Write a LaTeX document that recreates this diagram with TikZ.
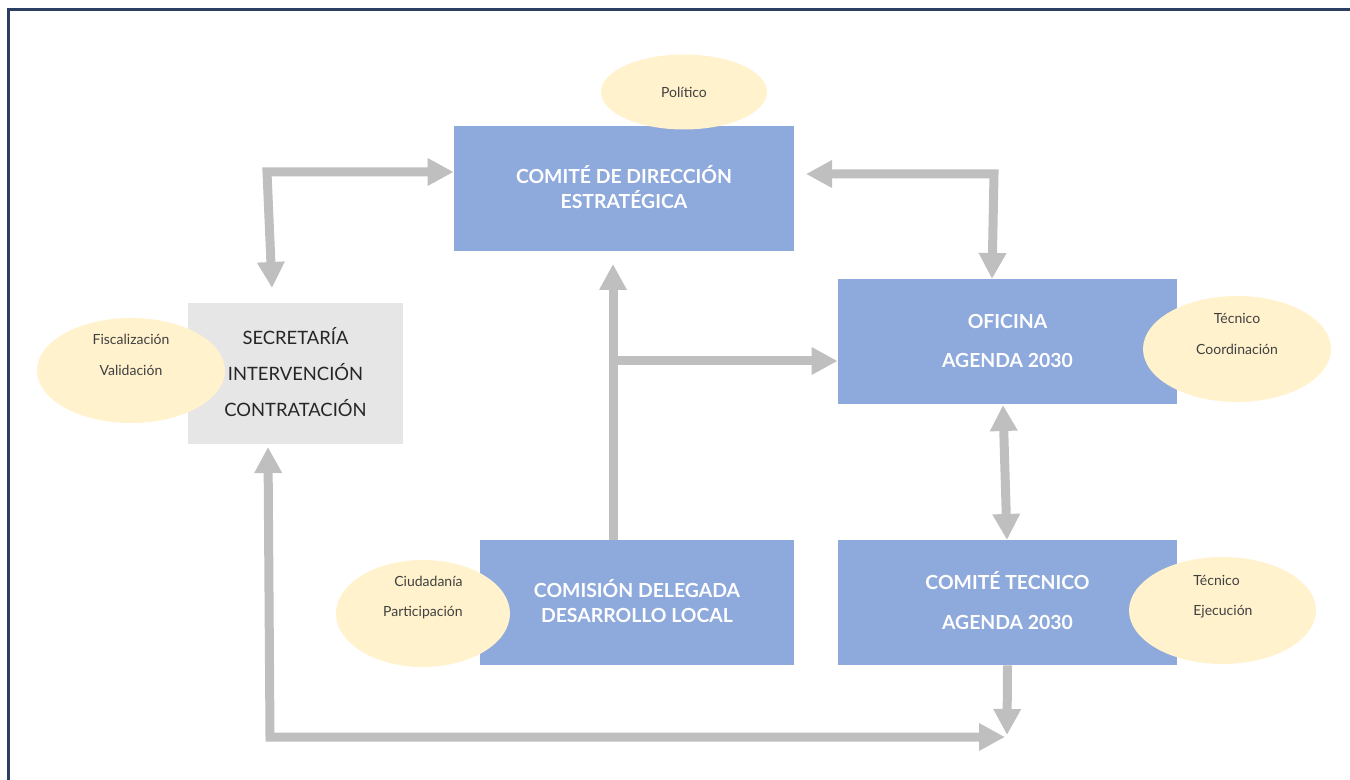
\documentclass[tikz,border=0pt]{standalone}
\usepackage{fontspec}
\setmainfont{Lato}
\usetikzlibrary{arrows.meta,shapes.geometric}
\definecolor{boxblue}{RGB}{142,169,219}
\definecolor{boxgray}{RGB}{231,230,230}
\definecolor{ellyellow}{RGB}{255,242,204}
\definecolor{arrgray}{RGB}{191,191,191}
\definecolor{framenavy}{RGB}{44,62,98}
\definecolor{txtdark}{RGB}{38,38,38}
\definecolor{txtell}{RGB}{64,64,64}
\tikzset{
  bluebox/.style={rectangle, fill=boxblue, draw=none, text=white, font=\bfseries\fontsize{9.7pt}{12.5pt}\selectfont, align=center, inner sep=0pt},
  graybox/.style={rectangle, fill=boxgray, draw=none, text=txtdark, font=\fontsize{9.2pt}{18pt}\selectfont, align=center, inner sep=0pt},
  ell/.style={ellipse, fill=ellyellow, draw=none, inner sep=0pt},
  elltext/.style={text=txtell, font=\fontsize{7pt}{8pt}\selectfont, inner sep=0pt},
  garrow/.style={draw=arrgray, line width=4.5pt, -{Triangle[length=13pt,width=13pt]}},
  garrowtwo/.style={draw=arrgray, line width=4.5pt, {Triangle[length=13pt,width=13pt]}-{Triangle[length=13pt,width=13pt]}}
}
\begin{document}
\begin{tikzpicture}[x=0.5pt,y=-0.5pt]
\useasboundingbox (0,0) rectangle (1350,780);
\draw[framenavy, line width=1.5pt] (8,10) rectangle (1360,790);

% boxes
\node[bluebox, minimum width=170pt, minimum height=62.5pt] (cde) at (624,188.5) {};
\node[bluebox] (tcde) at (624,187) {COMITÉ DE DIRECCIÓN\\ESTRATÉGICA};
\node[graybox, minimum width=107.5pt, minimum height=70.5pt] (sec) at (295.5,373.5) {};
\node[graybox, fill=none] (tsec) at (295.5,372) {SECRETARÍA\\INTERVENCIÓN\\CONTRATACIÓN};
\node[bluebox, minimum width=169.5pt, minimum height=62.5pt] (ofi) at (1007.5,341.5) {};
\node[bluebox, fill=none, font=\bfseries\fontsize{9.7pt}{19.5pt}\selectfont] (tofi) at (1007.5,340.5) {OFICINA\\AGENDA 2030};
\node[bluebox, minimum width=157pt, minimum height=62.5pt] (com) at (637,602.5) {};
\node[bluebox, fill=none] (tcom) at (637,601.5) {COMISIÓN DELEGADA\\DESARROLLO LOCAL};
\node[bluebox, minimum width=169.5pt, minimum height=62.5pt] (ct) at (1007.5,602.5) {};
\node[bluebox, fill=none, font=\bfseries\fontsize{9.7pt}{20pt}\selectfont] (tct) at (1007.5,601) {COMITÉ TECNICO\\AGENDA 2030};

% ellipses
\node[ell, minimum width=83pt, minimum height=37.5pt] (epol) at (684,92) {};
\node[elltext] (tpol) at (684,92) {Político};
\node[ell, minimum width=94pt, minimum height=52.5pt] (efis) at (131,370.5) {};
\node[elltext] (tfis1) at (131,339) {Fiscalización};
\node[elltext] (tfis2) at (131,370) {Validación};
\node[ell, minimum width=94pt, minimum height=53pt] (ecoo) at (1237,349) {};
\node[elltext] (tcoo1) at (1237,318) {Técnico};
\node[elltext] (tcoo2) at (1237,349) {Coordinación};
\node[ell, minimum width=87pt, minimum height=53.5pt] (eciu) at (423,613.5) {};
\node[elltext, anchor=east] (tciu1) at (463,581) {Ciudadanía};
\node[elltext, anchor=east] (tciu2) at (463,613) {Participación};
\node[ell, minimum width=93.5pt, minimum height=53.5pt] (eeje) at (1222.5,610.5) {};
\node[elltext, anchor=west] (teje1) at (1193,580) {Técnico};
\node[elltext, anchor=west] (teje2) at (1193,612) {Ejecución};

% connectors
\coordinate (a0) at (272,288);
\coordinate (a1) at (267,172);
\draw[garrowtwo] (a0) -- (a1) -- (cde.west |- a1);

\coordinate (b0) at (806,174);
\coordinate (b1) at (994,174);
\coordinate (b2) at (992,279);
\draw[garrowtwo] (b0) -- (b1) -- (b2);

\coordinate (m1) at (613,264);
\coordinate (m2) at (613,361);
\draw[garrow] (com.north -| m1) -- (m1);
\draw[garrow] (m2) -- (ofi.west |- m2);

\coordinate (c0) at (1003,405);
\coordinate (c1) at (1007,540);
\draw[garrowtwo] (c0) -- (c1);

\coordinate (d1) at (1007,735);
\draw[garrow] (ct.south) -- (d1);
\coordinate (s0) at (268,447);
\coordinate (s1) at (270,737);
\coordinate (s2) at (1005,737);
\draw[garrowtwo] (s0) -- (s1) -- (s2);
\end{tikzpicture}
\end{document}
